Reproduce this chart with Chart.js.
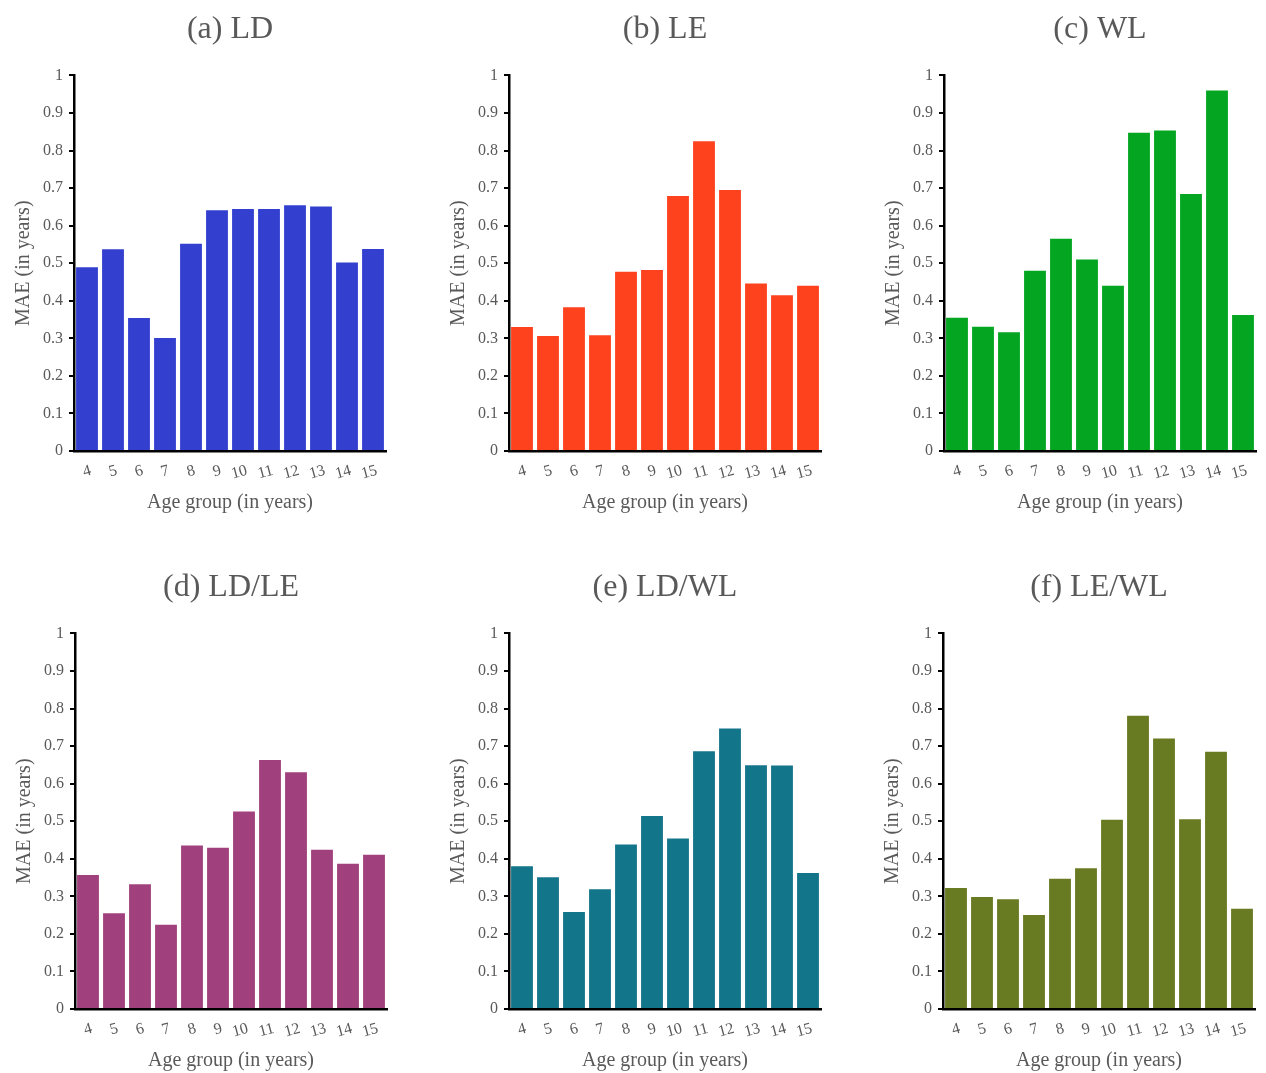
<!DOCTYPE html>
<html>
<head>
<meta charset="utf-8">
<script src="https://cdn.jsdelivr.net/npm/chart.js@4"></script>
<style>
  html, body { margin: 0; padding: 0; background: #fff; }
  body { width: 1266px; height: 1073px; position: relative; overflow: hidden; }
  .panel { position: absolute; width: 394px; height: 515px; }
</style>
</head>
<body>
<div class="panel" style="left:0px;top:0px"><canvas id="c0"></canvas></div>
<div class="panel" style="left:435px;top:0px"><canvas id="c1"></canvas></div>
<div class="panel" style="left:870px;top:0px"><canvas id="c2"></canvas></div>
<div class="panel" style="left:1px;top:558px"><canvas id="c3"></canvas></div>
<div class="panel" style="left:435px;top:558px"><canvas id="c4"></canvas></div>
<div class="panel" style="left:869px;top:558px"><canvas id="c5"></canvas></div>
<script>
// age groups (x categories)
const ageGroups = ['4', '5', '6', '7', '8', '9', '10', '11', '12', '13', '14', '15'];
const yTickLabels = ['0', '0.1', '0.2', '0.3', '0.4', '0.5', '0.6', '0.7', '0.8', '0.9', '1'];

// MAE values per feature set
const maeLD   = [0.489, 0.537, 0.354, 0.301, 0.552, 0.641, 0.644, 0.644, 0.654, 0.651, 0.502, 0.538];
const maeLE   = [0.330, 0.306, 0.383, 0.308, 0.477, 0.482, 0.679, 0.825, 0.695, 0.446, 0.415, 0.440];
const maeWL   = [0.355, 0.331, 0.316, 0.480, 0.565, 0.510, 0.440, 0.847, 0.853, 0.684, 0.960, 0.362];
const maeLDLE = [0.357, 0.255, 0.332, 0.224, 0.435, 0.429, 0.526, 0.663, 0.630, 0.424, 0.387, 0.411];
const maeLDWL = [0.380, 0.351, 0.258, 0.319, 0.438, 0.514, 0.454, 0.686, 0.747, 0.649, 0.648, 0.362];
const maeLEWL = [0.322, 0.298, 0.292, 0.250, 0.347, 0.375, 0.504, 0.781, 0.720, 0.505, 0.685, 0.267];

const panelTitles = ['(a) LD', '(b) LE', '(c) WL', '(d) LD/LE', '(e) LD/WL', '(f) LE/WL'];
const panelData = [maeLD, maeLE, maeWL, maeLDLE, maeLDWL, maeLEWL];
const panelColors = ['#3340cf', '#fe421e', '#03a521', '#a0407c', '#137589', '#687a22'];

const textGray = '#595959';
const serif = "'Liberation Serif', 'Times New Roman', serif";

function makeChart(id, title, data, color) {
  const ctx = document.getElementById(id).getContext('2d');
  return new Chart(ctx, {
    type: 'bar',
    data: {
      labels: ageGroups,
      datasets: [{
        data: data,
        backgroundColor: color,
        borderWidth: 0,
        barPercentage: 0.84,
        categoryPercentage: 1.0
      }]
    },
    options: {
      responsive: true,
      maintainAspectRatio: false,
      animation: false,
      layout: { padding: { left: 10, right: 8, top: 0, bottom: 0 } },
      plugins: {
        legend: { display: false },
        tooltip: { enabled: false },
        title: {
          display: true,
          text: title,
          fullSize: false,
          color: textGray,
          font: { family: serif, size: 32, weight: 'normal' },
          padding: { top: 10, bottom: 27 }
        }
      },
      scales: {
        x: {
          afterFit: (scale) => { scale.height = 64; },
          grid: { display: false, drawTicks: false },
          border: { display: true, color: '#000', width: 2.5 },
          ticks: {
            color: textGray,
            font: { family: serif, size: 16 },
            minRotation: 15,
            maxRotation: 15,
            labelOffset: 4,
            padding: 10,
            autoSkip: false
          },
          title: {
            display: true,
            text: 'Age group (in years)',
            color: textGray,
            font: { family: serif, size: 20 },
            padding: { top: 0, bottom: 0 }
          }
        },
        y: {
          min: 0,
          max: 1,
          afterFit: (scale) => { scale.width = 64; },
          grid: { drawOnChartArea: false, drawTicks: true, tickLength: 5, color: '#000', lineWidth: 2 },
          border: { display: true, color: '#000', width: 2.5 },
          ticks: {
            stepSize: 0.1,
            color: textGray,
            font: { family: serif, size: 16 },
            padding: 6,
            callback: (v, i) => yTickLabels[i]
          },
          title: {
            display: true,
            text: 'MAE (in years)',
            color: textGray,
            font: { family: serif, size: 20 },
            padding: { top: 2, bottom: 0 }
          }
        }
      }
    }
  });
}

panelData.forEach((d, i) => makeChart('c' + i, panelTitles[i], d, panelColors[i]));
</script>
</body>
</html>
